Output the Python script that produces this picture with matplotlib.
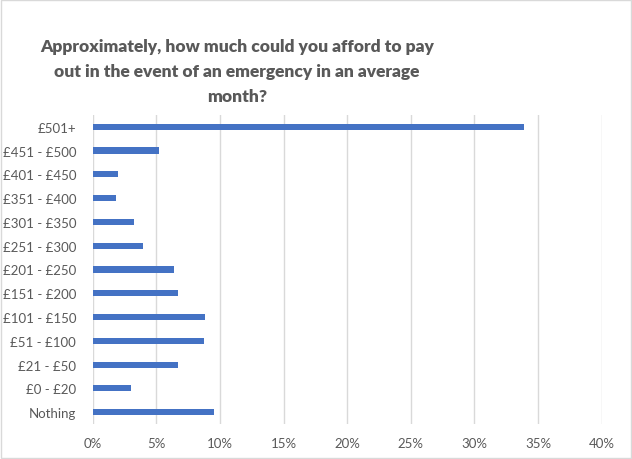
import matplotlib.pyplot as plt
from matplotlib.ticker import PercentFormatter
from matplotlib.patches import Rectangle

# categories bottom -> top, shares
categories = ['Nothing', '£0 - £20', '£21 - £50', '£51 - £100', '£101 - £150',
              '£151 - £200', '£201 - £250', '£251 - £300', '£301 - £350',
              '£351 - £400', '£401 - £450', '£451 - £500', '£501+']
shares = [0.095, 0.030, 0.067, 0.087, 0.088, 0.067, 0.064, 0.039, 0.032,
          0.018, 0.020, 0.052, 0.339]
x_ticks = [0, 0.05, 0.10, 0.15, 0.20, 0.25, 0.30, 0.35, 0.40]

title = ('Approximately, how much could you afford to pay\n'
         'out in the event of an emergency in an average\nmonth?')

plt.rcParams['font.family'] = ['Lato', 'DejaVu Sans']
txt = '#595959'

fig = plt.figure(figsize=(6.32, 4.6), dpi=100)
ax = fig.add_axes([0.147, 0.076, 0.805, 0.672])

ax.barh(range(len(categories)), shares, height=0.26, color='#4472C4', zorder=3)

ax.set_xlim(0, 0.40)
ax.set_ylim(-0.5, len(categories) - 0.5)
ax.set_xticks(x_ticks)
ax.xaxis.set_major_formatter(PercentFormatter(1.0, decimals=0))
ax.set_yticks(range(len(categories)))
ax.set_yticklabels(categories)
ax.tick_params(axis='both', length=0, labelsize=9.5, colors=txt)
ax.tick_params(axis='x', pad=9)
ax.tick_params(axis='y', pad=12)
ax.grid(axis='x', color='#d9d9d9', linewidth=1, zorder=0)
for s in ax.spines.values():
    s.set_visible(False)

fig.text(237 / 632, 1 - 72 / 460, title, ha='center', va='center',
         fontsize=12.5, fontweight='heavy', color=txt, linespacing=1.7)

# light chart border
fig.patches.append(Rectangle((0.002, 0.002), 0.996, 0.996, transform=fig.transFigure,
                             fill=False, edgecolor='#d9d9d9', linewidth=1))

fig.savefig('out.png', dpi=100)
